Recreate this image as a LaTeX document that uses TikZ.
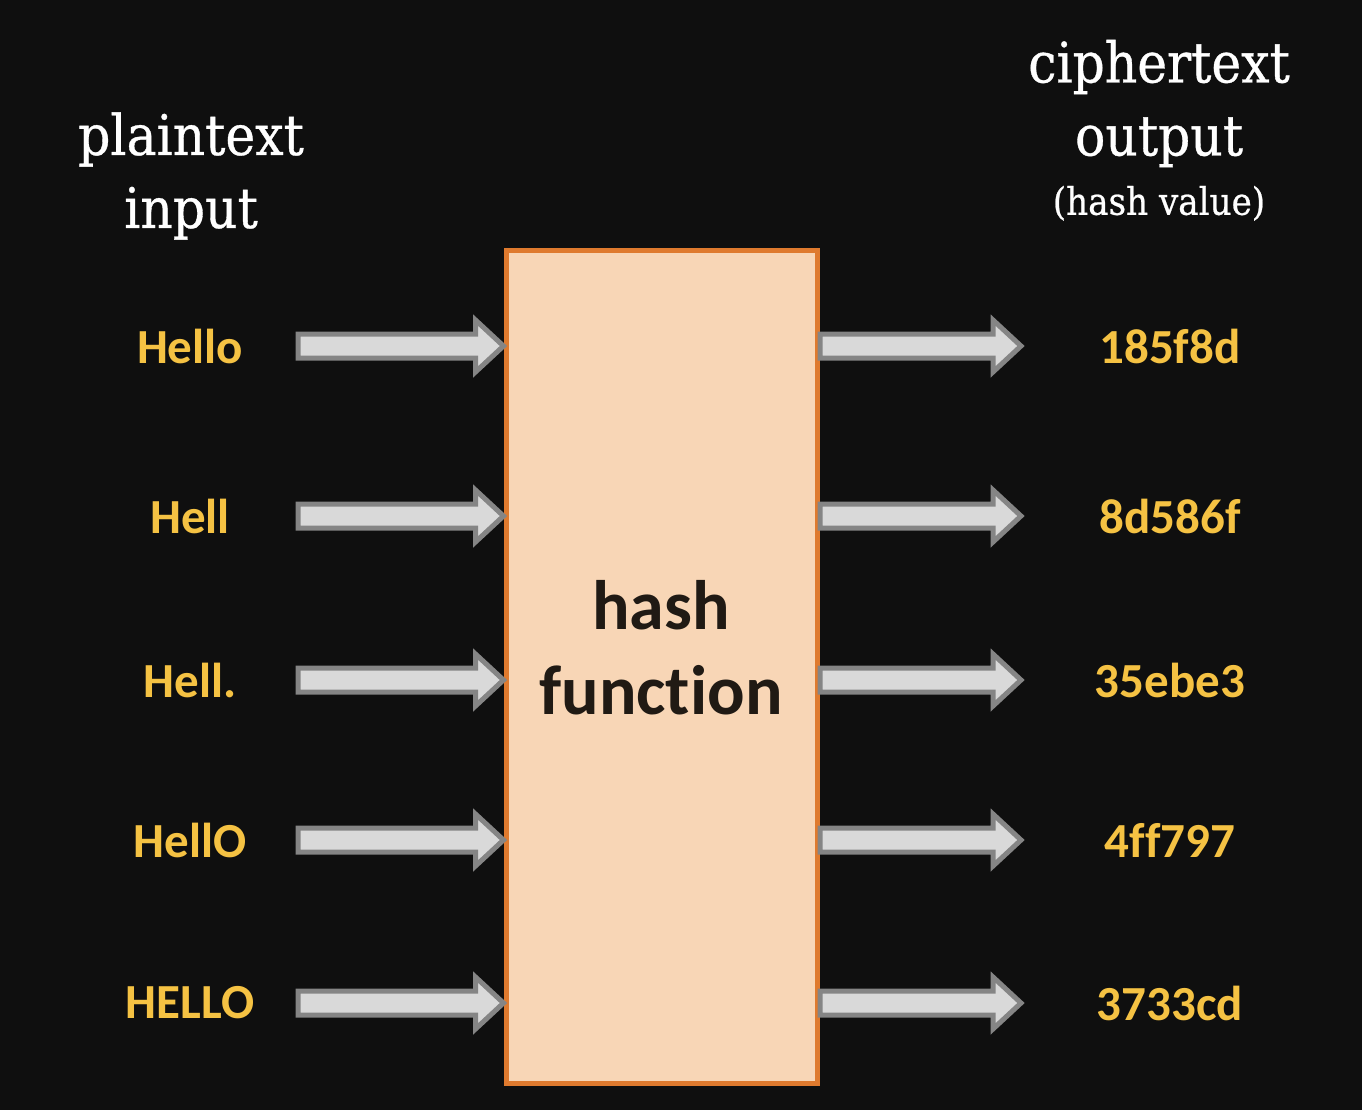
\documentclass[tikz,border=0pt]{standalone}
\usepackage{fontspec}
\setmainfont{Carlito}[Ligatures=CommonOff]
\newfontfamily\headfont{DejaVu Serif Condensed}[FakeBold=0.6]
\usetikzlibrary{positioning, calc}

\definecolor{bgdark}{HTML}{0F0F0F}
\definecolor{peach}{HTML}{F8D6B6}
\definecolor{boxorange}{HTML}{DF7A2E}
\definecolor{arrowfill}{HTML}{D9D9D9}
\definecolor{arrowline}{HTML}{858585}
\definecolor{gold}{HTML}{F5C243}
\definecolor{inkdark}{HTML}{201A14}

\begin{document}
\begin{tikzpicture}[
  x=0.5pt, y=-0.5pt,
  hashbox/.style  = {draw=boxorange, fill=peach, line width=2.5pt, rectangle,
                     minimum width=155.75pt, minimum height=416.5pt, inner sep=0pt},
  word/.style     = {text=gold, inner sep=0pt, font=\fontsize{24.5}{28}\selectfont\bfseries},
  head/.style     = {text=white, align=center, inner sep=0pt, font=\headfont\fontsize{28}{36.5}\selectfont},
  subhead/.style  = {text=white, inner sep=0pt, font=\headfont\fontsize{19}{22}\selectfont},
  fatarrow/.style = {draw=arrowline, fill=arrowfill, line width=2.5pt, line join=miter,
    to path={($(\tikztostart)+(0,-12)$) -- ($(\tikztotarget)+(-28,-12)$)
      -- ($(\tikztotarget)+(-28,-26)$) -- (\tikztotarget) -- ($(\tikztotarget)+(-28,26)$)
      -- ($(\tikztotarget)+(-28,12)$) -- ($(\tikztostart)+(0,12)$) -- cycle}},
]
  \fill[bgdark] (0,0) rectangle (1362,1110);

  \node[hashbox] (box) at (661.75,667) {};
  \node[align=center, inner sep=0pt, text=inkdark,
        font=\fontsize{35}{42.5}\selectfont\bfseries] (hashlbl) at (661,648) {hash\\function};

  % column titles
  \node[head] (inhead)     at (191,176)   {plaintext\\input};
  \node[head] (cipherhead) at (1159,103.5) {ciphertext\\output};
  \node[subhead, below=9pt of cipherhead] (hashnote) {(hash value)};

  \foreach \n/\plain/\hashval/\y in {1/Hello/185f8d/346, 2/Hell/8d586f/516,
      3/Hell./35ebe3/680, 4/HellO/4ff797/840, 5/HELLO/3733cd/1003} {
    \node[word] (in\n)  at (190,\y)  {\plain};
    \node[word] (out\n) at (1170,\y) {\hashval};
    \coordinate (tail\n) at (298,\y);
    \coordinate (tip\n)  at (1021,\y);
    \draw[fatarrow] (tail\n) to (box.west |- tail\n);
    \draw[fatarrow] (box.east |- tip\n) to (tip\n);
  }
\end{tikzpicture}
\end{document}
